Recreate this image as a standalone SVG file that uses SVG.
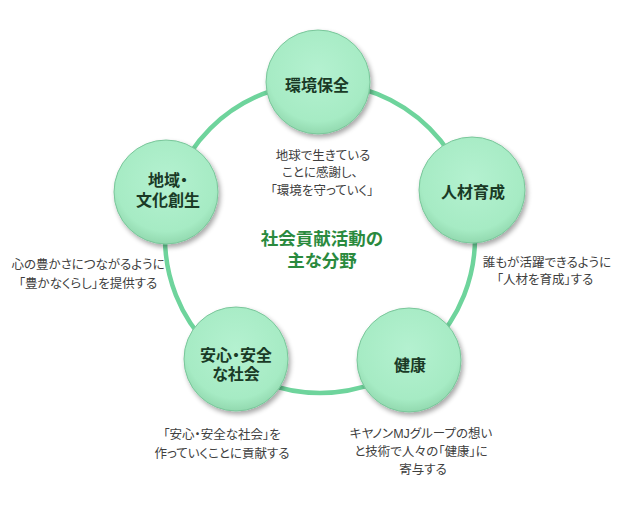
<svg xmlns="http://www.w3.org/2000/svg" width="630" height="514" viewBox="0 0 630 514">
<defs>
<radialGradient id="g" cx="50%" cy="40%" r="60%">
<stop offset="0" stop-color="#b4f1d0"/>
<stop offset="0.8" stop-color="#a6ebc4"/>
<stop offset="1" stop-color="#92d9af"/>
</radialGradient>
<filter id="sh" x="-20%" y="-20%" width="150%" height="150%">
<feGaussianBlur in="SourceAlpha" stdDeviation="2.5"/>
<feOffset dx="2" dy="3" result="b"/>
<feComponentTransfer><feFuncA type="linear" slope="0.35"/></feComponentTransfer>
<feMerge><feMergeNode/><feMergeNode in="SourceGraphic"/></feMerge>
</filter>
</defs>
<style>
.ring{fill:none;stroke:#6ed49c;stroke-width:4.5}
.node{fill:url(#g);stroke:#79c69a;stroke-width:1;filter:url(#sh)}
.lbl{font-family:"Liberation Sans","Noto Sans CJK JP",sans-serif;font-weight:bold;font-size:16px;fill:#1a3a26;text-anchor:middle;font-feature-settings:"palt"}
.t{font-family:"Liberation Sans","Noto Sans CJK JP",sans-serif;font-size:12.5px;fill:#404040;text-anchor:middle;font-feature-settings:"palt"}
.title{font-family:"Liberation Sans","Noto Sans CJK JP",sans-serif;font-weight:bold;font-size:17.5px;fill:#2a8a3e;text-anchor:middle;font-feature-settings:"palt"}
</style>
<rect width="630" height="514" fill="#ffffff"/>
<g id="connectors">
<circle class="ring" cx="320" cy="238" r="155"/>
</g>
<g id="center">
<text class="title" x="322" y="245">社会貢献活動の</text>
<text class="title" x="322" y="267">主な分野</text>
</g>
<g id="node-env">
<circle class="node" cx="318" cy="82" r="52"/>
<text class="lbl" x="317" y="91">環境保全</text>
<text class="t" x="323" y="160">地球で生きている</text>
<text class="t" x="320" y="177">ことに感謝し、</text>
<text class="t" x="322" y="195">「環境を守っていく」</text>
</g>
<g id="node-hr">
<circle class="node" cx="472" cy="190" r="53"/>
<text class="lbl" x="473" y="198">人材育成</text>
<text class="t" x="547" y="267">誰もが活躍できるように</text>
<text class="t" x="545" y="284">「人材を育成」する</text>
</g>
<g id="node-health">
<circle class="node" cx="409" cy="360" r="52"/>
<text class="lbl" x="410" y="371">健康</text>
<text class="t" x="421" y="438">キヤノンMJグループの想い</text>
<text class="t" x="421" y="456">と技術で人々の「健康」に</text>
<text class="t" x="423" y="474">寄与する</text>
</g>
<g id="node-safe">
<circle class="node" cx="236" cy="359" r="52"/>
<text class="lbl" x="236" y="361">安心・安全</text>
<text class="lbl" x="236" y="380">な社会</text>
<text class="t" x="222" y="439">「安心・安全な社会」を</text>
<text class="t" x="222" y="458">作っていくことに貢献する</text>
</g>
<g id="node-region">
<circle class="node" cx="166" cy="192" r="52"/>
<text class="lbl" x="168" y="186">地域・</text>
<text class="lbl" x="168" y="206">文化創生</text>
<text class="t" x="88" y="269">心の豊かさにつながるように</text>
<text class="t" x="88" y="288">「豊かなくらし」を提供する</text>
</g>
</svg>
